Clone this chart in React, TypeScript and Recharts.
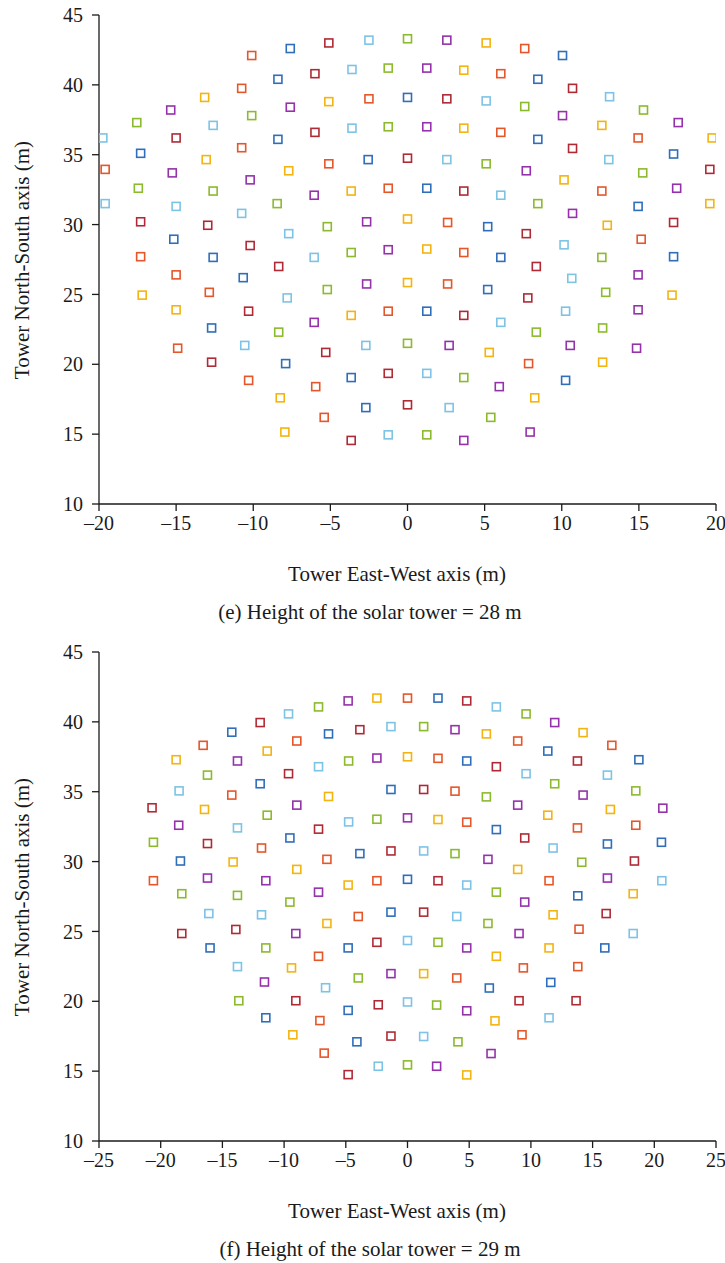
import React from 'react';
import { ScatterChart, Scatter, XAxis, YAxis } from 'recharts';

type Pt = [number, number];

// (e) tower height 28 m -- heliostat centres, grouped by marker colour
const h28Blue: Pt[] = [
  [0, 39.1], [-7.6, 42.6], [-8.4, 40.4], [-8.4, 36.1], [-17.3, 35.1], [-2.55, 34.65], [-15.15, 28.95],
  [-12.6, 27.65], [-10.65, 26.2], [-12.7, 22.6], [-7.9, 20.05], [-3.65, 19.05], [-2.7, 16.9],
  [10.05, 42.1], [8.45, 40.4], [8.45, 36.1], [17.25, 35.05], [1.25, 32.6], [14.95, 31.3], [5.2, 29.85],
  [17.25, 27.7], [6.05, 27.65], [5.2, 25.35], [1.25, 23.8], [10.25, 18.85],
];
const h28Orange: Pt[] = [
  [-10.1, 42.1], [-10.75, 39.75], [-2.5, 39.0], [-10.75, 35.5], [-5.1, 34.35], [-19.6, 33.95], [-1.25, 32.6],
  [-17.3, 27.7], [-15.0, 26.4], [-12.85, 25.15], [-1.25, 23.8], [-14.9, 21.15], [-10.3, 18.85], [-5.95, 18.4],
  [-5.4, 16.2], [7.6, 42.6], [6.05, 40.8], [6.05, 36.6], [14.95, 36.2], [12.6, 32.4], [2.6, 30.15],
  [15.15, 28.95], [3.65, 28.0], [2.6, 25.75], [7.85, 20.05],
];
const h28LightBlue: Pt[] = [
  [-2.5, 43.2], [-3.6, 41.1], [-12.6, 37.1], [-3.6, 36.9], [-19.75, 36.2], [-19.6, 31.5], [-15.0, 31.3],
  [-10.75, 30.8], [-7.7, 29.35], [-6.05, 27.65], [-7.8, 24.75], [-10.55, 21.35], [-2.7, 21.35], [-1.25, 14.95],
  [5.1, 38.85], [13.1, 39.15], [2.55, 34.65], [13.05, 34.65], [6.05, 32.1], [10.15, 28.55], [10.65, 26.15],
  [6.05, 23.0], [10.25, 23.8], [1.25, 19.35], [2.7, 16.9],
];
const h28Green: Pt[] = [
  [0, 43.3], [0, 21.5], [-1.25, 41.2], [-10.1, 37.8], [-17.55, 37.3], [-1.25, 37.0], [-17.45, 32.6],
  [-12.6, 32.4], [-8.45, 31.5], [-5.2, 29.85], [-3.65, 28.0], [-5.2, 25.35], [-8.35, 22.3],
  [7.6, 38.45], [15.3, 38.2], [5.1, 34.35], [15.25, 33.7], [8.45, 31.5], [12.6, 27.65], [12.85, 25.15],
  [8.35, 22.3], [12.65, 22.6], [3.65, 19.05], [5.4, 16.2], [1.25, 14.95],
];
const h28Purple: Pt[] = [
  [-15.35, 38.2], [-7.6, 38.4], [-15.25, 33.7], [-10.2, 33.2], [-6.05, 32.1], [-2.65, 30.2], [-1.25, 28.2],
  [-2.65, 25.75], [-6.05, 23.0], [2.55, 43.2], [1.25, 41.2], [10.05, 37.8], [17.55, 37.3], [1.25, 37.0],
  [7.7, 33.85], [17.45, 32.6], [10.7, 30.8], [14.95, 26.4], [14.95, 23.9], [2.7, 21.35], [10.55, 21.35],
  [14.85, 21.15], [5.95, 18.4], [7.95, 15.15], [3.65, 14.55],
];
const h28DarkRed: Pt[] = [
  [0, 34.75], [0, 17.1], [-5.1, 43.0], [-6.0, 40.8], [-6.0, 36.6], [-15.0, 36.2], [-17.3, 30.2],
  [-12.95, 29.95], [-10.2, 28.5], [-8.35, 27.0], [-10.3, 23.8], [-5.3, 20.85], [-12.7, 20.15], [-1.25, 19.35],
  [-3.65, 14.55], [10.7, 39.75], [2.55, 39.0], [10.7, 35.45], [19.6, 33.95], [3.65, 32.4], [17.25, 30.15],
  [7.7, 29.35], [8.35, 27.0], [7.8, 24.75], [3.65, 23.5],
];
const h28Yellow: Pt[] = [
  [0, 30.4], [0, 25.85], [-13.15, 39.1], [-5.1, 38.8], [-13.05, 34.65], [-7.7, 33.85], [-3.65, 32.4],
  [-17.2, 24.95], [-15.0, 23.9], [-3.65, 23.5], [-8.25, 17.6], [-7.95, 15.15], [5.1, 43.0], [3.65, 41.05],
  [19.75, 36.2], [3.65, 36.9], [12.6, 37.1], [10.15, 33.2], [19.6, 31.5], [12.95, 29.95], [1.25, 28.25],
  [17.15, 24.95], [5.3, 20.85], [12.65, 20.15], [8.25, 17.6],
];

// (f) tower height 29 m
const h29Blue: Pt[] = [
  [0, 28.73], [-14.24, 39.26], [-6.4, 39.14], [-11.94, 35.57], [-1.34, 35.16], [-18.4, 30.04], [-9.53, 31.69],
  [-3.86, 30.57], [-1.34, 26.38], [-16.0, 23.82], [-4.81, 23.82], [-4.81, 19.35], [-11.48, 18.82], [-4.1, 17.1],
  [2.47, 41.7], [18.75, 37.29], [11.37, 37.91], [4.8, 37.2], [20.58, 31.38], [16.2, 31.26], [7.2, 32.29],
  [13.8, 27.55], [15.99, 23.82], [6.63, 20.95], [11.61, 21.35],
];
const h29Orange: Pt[] = [
  [0, 41.7], [-16.56, 38.32], [-8.97, 38.63], [-14.24, 34.76], [-11.83, 30.97], [-20.59, 28.63], [-6.53, 30.16],
  [-2.48, 28.63], [-3.99, 26.07], [-7.21, 23.22], [-7.1, 18.62], [-6.75, 16.29], [16.56, 38.32], [8.93, 38.63],
  [2.47, 37.39], [18.5, 32.6], [3.85, 35.04], [13.77, 32.41], [4.8, 32.82], [11.47, 28.63], [13.9, 25.16],
  [3.99, 21.67], [9.39, 22.39], [13.8, 22.48], [9.28, 17.6],
];
const h29LightBlue: Pt[] = [
  [0, 24.35], [0, 19.95], [-9.64, 40.57], [-1.34, 39.66], [-18.51, 35.06], [-7.21, 36.79], [-13.78, 32.41],
  [-4.77, 32.84], [-16.1, 26.28], [-11.83, 26.19], [-13.78, 22.48], [-6.64, 20.97], [-2.37, 15.35],
  [7.2, 41.07], [16.2, 36.19], [9.61, 36.29], [20.61, 28.63], [11.8, 30.97], [1.31, 30.76], [4.8, 28.32],
  [3.99, 26.07], [18.29, 24.85], [11.47, 18.82], [1.31, 17.48],
];
const h29Green: Pt[] = [
  [0, 15.45], [-7.21, 41.07], [-4.77, 37.2], [-16.21, 36.19], [-11.37, 33.32], [-2.48, 33.03], [-20.59, 31.38],
  [-18.29, 27.7], [-13.78, 27.58], [-9.53, 27.1], [-11.48, 23.82], [-3.99, 21.67], [-13.67, 20.04],
  [9.61, 40.57], [1.31, 39.66], [18.5, 35.06], [11.93, 35.57], [6.39, 34.63], [14.12, 29.95], [3.85, 30.57],
  [7.2, 27.81], [6.52, 25.57], [2.47, 24.22], [2.36, 19.73], [4.09, 17.1],
];
const h29Purple: Pt[] = [
  [0, 33.13], [-4.81, 41.5], [-13.78, 37.2], [-2.48, 37.41], [-8.97, 34.04], [-18.54, 32.6], [-16.21, 28.82],
  [-11.48, 28.63], [-7.21, 27.81], [-9.05, 24.85], [-1.34, 21.98], [-11.59, 21.38], [11.93, 39.95],
  [3.85, 39.44], [14.23, 34.76], [20.69, 33.82], [8.93, 34.04], [6.52, 30.16], [16.2, 28.82], [9.5, 27.1],
  [9.04, 24.85], [4.8, 23.82], [4.8, 19.32], [6.77, 16.26], [2.36, 15.35],
];
const h29DarkRed: Pt[] = [
  [-11.94, 39.95], [-3.86, 39.44], [-9.64, 36.29], [-20.7, 33.85], [-16.21, 31.29], [-7.21, 32.32],
  [-1.34, 30.76], [-18.29, 24.85], [-13.91, 25.14], [-2.48, 24.22], [-9.05, 20.04], [-2.37, 19.75],
  [-1.34, 17.51], [-4.81, 14.75], [4.8, 41.5], [13.77, 37.2], [7.2, 36.79], [1.31, 35.16], [18.39, 30.04],
  [9.5, 31.69], [2.47, 28.63], [1.31, 26.38], [16.1, 26.28], [9.04, 20.04], [13.66, 20.04],
];
const h29Yellow: Pt[] = [
  [0, 37.5], [-2.48, 41.7], [-18.75, 37.29], [-11.37, 37.91], [-16.45, 33.73], [-6.4, 34.66], [-14.13, 29.97],
  [-8.97, 29.44], [-4.81, 28.32], [-6.53, 25.57], [-9.4, 22.39], [-9.29, 17.6], [14.23, 39.23], [6.39, 39.14],
  [16.44, 33.73], [11.37, 33.32], [2.47, 33.01], [8.93, 29.44], [18.29, 27.7], [11.8, 26.19], [7.2, 23.22],
  [11.47, 23.82], [1.31, 21.98], [7.09, 18.6], [4.8, 14.73],
];

const yTicks = [10, 15, 20, 25, 30, 35, 40, 45];
const xTicks28 = [-20, -15, -10, -5, 0, 5, 10, 15, 20];
const xTicks29 = [-25, -20, -15, -10, -5, 0, 5, 10, 15, 20, 25];

const FONT = '"Liberation Serif", "DejaVu Serif", serif';
const AXIS = '#1a1a1a';

const C = {
  blue: '#2F6EBA',
  orange: '#E5562A',
  lightBlue: '#7DC3E6',
  green: '#8CBA2D',
  purple: '#9532AB',
  darkRed: '#B02A36',
  yellow: '#F4B410',
};

if (typeof document !== 'undefined') document.body.style.margin = '0';

const toRows = (pts: Pt[]) => pts.map(([x, y]) => ({ x, y }));
const fmt = (v: number) => (v < 0 ? `\u2013${Math.abs(v)}` : `${v}`);

const square = (color: string) => (p: any) => {
  if (p.cx == null || p.cy == null) return <g />;
  return (
    <rect x={p.cx - 4} y={p.cy - 4} width={8} height={8} fill="none" stroke={color} strokeWidth={1.6} />
  );
};

interface FieldProps {
  top: number;
  xDomain: [number, number];
  xTicks: number[];
  series: { pts: Pt[]; color: string }[];
  caption: string;
}

function FieldChart({ top, xDomain, xTicks, series, caption }: FieldProps) {
  const tickStyle = { fill: '#1a1a1a', fontSize: 20, fontFamily: FONT };
  const line = { stroke: AXIS, strokeWidth: 1.3 };
  const title = { fontFamily: FONT, fontSize: 21, color: '#1a1a1a', lineHeight: '26px', textAlign: 'center' as const };
  return (
    <div style={{ position: 'absolute', left: 0, top, width: 725, height: 630 }}>
      <ScatterChart width={725} height={540} margin={{ top: 15, right: 9, bottom: 0, left: 0 }}>
        <XAxis
          type="number"
          dataKey="x"
          domain={xDomain}
          ticks={xTicks}
          interval={0}
          allowDataOverflow
          height={36}
          tickSize={7}
          tickMargin={5}
          axisLine={line}
          tickLine={line}
          tick={tickStyle}
          tickFormatter={fmt}
        />
        <YAxis
          type="number"
          dataKey="y"
          domain={[10, 45]}
          ticks={yTicks}
          interval={0}
          allowDataOverflow
          width={99}
          tickSize={7}
          tickMargin={9}
          axisLine={line}
          tickLine={line}
          tick={tickStyle}
        />
        {series.map((s, i) => (
          <Scatter key={i} data={toRows(s.pts)} shape={square(s.color)} isAnimationActive={false} />
        ))}
      </ScatterChart>
      <div style={{ ...title, position: 'absolute', left: 22 - 160, top: 260 - 13, width: 320, height: 26, transform: 'rotate(-90deg)' }}>
        Tower North-South axis (m)
      </div>
      <div style={{ ...title, position: 'absolute', left: 397 - 200, top: 574 - 13, width: 400 }}>
        Tower East-West axis (m)
      </div>
      <div style={{ ...title, position: 'absolute', left: 370 - 200, top: 612 - 13, width: 400 }}>
        {caption}
      </div>
    </div>
  );
}

export default function App() {
  const s28 = [
    { pts: h28Blue, color: C.blue },
    { pts: h28Orange, color: C.orange },
    { pts: h28LightBlue, color: C.lightBlue },
    { pts: h28Green, color: C.green },
    { pts: h28Purple, color: C.purple },
    { pts: h28DarkRed, color: C.darkRed },
    { pts: h28Yellow, color: C.yellow },
  ];
  const s29 = [
    { pts: h29Blue, color: C.blue },
    { pts: h29Orange, color: C.orange },
    { pts: h29LightBlue, color: C.lightBlue },
    { pts: h29Green, color: C.green },
    { pts: h29Purple, color: C.purple },
    { pts: h29DarkRed, color: C.darkRed },
    { pts: h29Yellow, color: C.yellow },
  ];
  return (
    <div style={{ position: 'relative', width: 725, height: 1263, background: '#fff', overflow: 'hidden' }}>
      <FieldChart
        top={0}
        xDomain={[-20, 20]}
        xTicks={xTicks28}
        series={s28}
        caption="(e) Height of the solar tower = 28 m"
      />
      <FieldChart
        top={637}
        xDomain={[-25, 25]}
        xTicks={xTicks29}
        series={s29}
        caption="(f) Height of the solar tower = 29 m"
      />
    </div>
  );
}
